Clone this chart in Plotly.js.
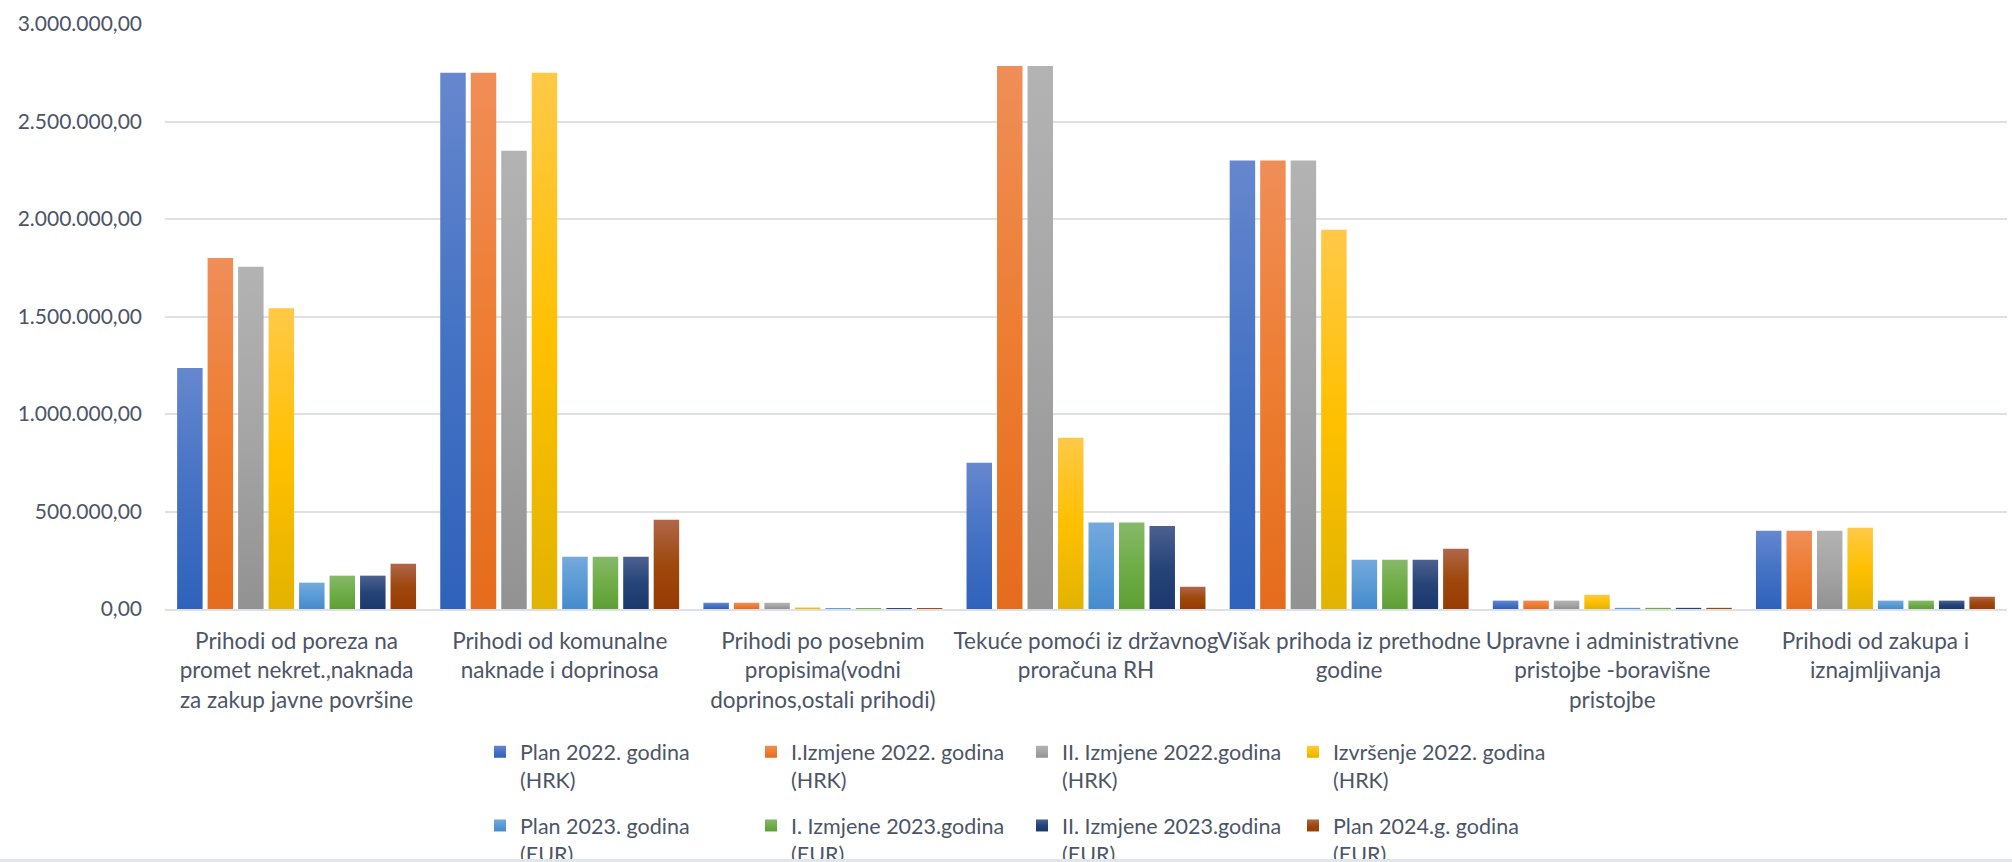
<!DOCTYPE html>
<html>
<head>
<meta charset="utf-8">
<script src="https://cdn.plot.ly/plotly-3.0.1.min.js"></script>
<style>
  html, body { margin: 0; padding: 0; background: #e2e6ea; }
  #chart { width: 2012px; height: 859px; background: #ffffff; }
</style>
</head>
<body>
<div id="chart"></div>
<script>
// ---------- data ----------
const categories = [
  "Prihodi od poreza na<br>promet nekret.,naknada<br>za zakup javne površine",
  "Prihodi od komunalne<br>naknade i doprinosa",
  "Prihodi po posebnim<br>propisima(vodni<br>doprinos,ostali prihodi)",
  "Tekuće pomoći iz državnog<br>proračuna RH",
  "Višak prihoda iz prethodne<br>godine",
  "Upravne i administrativne<br>pristojbe -boravišne<br>pristojbe",
  "Prihodi od zakupa i<br>iznajmljivanja"
];

const seriesNames = [
  "Plan 2022. godina<br>(HRK)",
  "I.Izmjene 2022. godina<br>(HRK)",
  "II. Izmjene 2022.godina<br>(HRK)",
  "Izvršenje 2022. godina<br>(HRK)",
  "Plan 2023. godina<br>(EUR)",
  "I. Izmjene 2023.godina<br>(EUR)",
  "II. Izmjene 2023.godina<br>(EUR)",
  "Plan 2024.g. godina<br>(EUR)"
];

const plan2022      = [1236000, 2750000, 32000,  750000, 2300000, 43000, 401000];
const izmjene1_2022 = [1800000, 2750000, 32000, 2785000, 2300000, 43000, 401000];
const izmjene2_2022 = [1755000, 2350000, 32000, 2785000, 2300000, 43000, 401000];
const izvrsenje2022 = [1542000, 2750000,  8000,  878000, 1945000, 73000, 417000];
const plan2023      = [ 135000,  268000,  5000,  443000,  253000,  6000,  43000];
const izmjene1_2023 = [ 171000,  268000,  5000,  443000,  253000,  6000,  43000];
const izmjene2_2023 = [ 171000,  268000,  5000,  426000,  253000,  6000,  43000];
const plan2024      = [ 232000,  458000,  5000,  114000,  309000,  6000,  63000];

const yTickValues = [0, 500000, 1000000, 1500000, 2000000, 2500000, 3000000];

// ---------- styling ----------
const seriesValues = [plan2022, izmjene1_2022, izmjene2_2022, izvrsenje2022,
                      plan2023, izmjene1_2023, izmjene2_2023, plan2024];
const baseColors = ["#4472C4", "#ED7D31", "#A5A5A5", "#FFC000",
                    "#5B9BD5", "#70AD47", "#264478", "#9E480E"];
const gradStops = [
  ["#6687CE", "#2F62BC"],
  ["#F08E58", "#E56C1C"],
  ["#B3B3B3", "#929292"],
  ["#FFC947", "#E2B300"],
  ["#74A9DE", "#458BCD"],
  ["#86B96A", "#5E9F35"],
  ["#4C6190", "#1C386E"],
  ["#B06648", "#983B02"]
];

const textColor = "#4b5567";
const fontFam = "Lato, 'Open Sans', sans-serif";

const data = seriesValues.map((vals, i) => ({
  type: "bar",
  name: seriesNames[i],
  x: categories,
  y: vals,
  marker: { color: baseColors[i], line: { width: 0 } },
  legend: i < 4 ? "legend" : "legend2",
  hoverinfo: "skip"
}));

const legendCommon = {
  orientation: "h",
  xanchor: "left",
  yanchor: "top",
  x: 0.171,
  entrywidth: 226,
  entrywidthmode: "pixels",
  valign: "top",
  traceorder: "normal",
  font: { family: fontFam, size: 21.5, color: textColor },
  bgcolor: "rgba(0,0,0,0)",
  borderwidth: 0
};

const layout = {
  width: 2012,
  height: 859,
  margin: { l: 165, r: 5, t: 24, b: 250, autoexpand: false },
  paper_bgcolor: "#ffffff",
  plot_bgcolor: "#ffffff",
  separators: ",.",
  font: { family: fontFam, size: 21, color: textColor },
  barmode: "group",
  bargap: 0.073,
  bargroupgap: 0.164,
  showlegend: true,
  xaxis: {
    type: "category",
    showgrid: false,
    showline: true,
    linecolor: "#dde1e6",
    linewidth: 2,
    ticks: "",
    tickangle: 0,
    ticklabelstandoff: 11,
    tickfont: { family: fontFam, size: 22.5, color: textColor },
    automargin: false,
    fixedrange: true
  },
  yaxis: {
    range: [0, 3000000],
    tickvals: yTickValues,
    tickformat: ",.2f",
    showgrid: true,
    gridcolor: "#dde1e6",
    gridwidth: 2,
    zeroline: false,
    showline: false,
    ticks: "",
    ticklabelstandoff: 22,
    tickfont: { family: fontFam, size: 21, color: textColor },
    automargin: false,
    fixedrange: true
  },
  legend: Object.assign({}, legendCommon, { y: -0.209 }),
  legend2: Object.assign({}, legendCommon, { y: -0.335 })
};

function applyGradients(gd) {
  const svgNS = "http://www.w3.org/2000/svg";
  const svg = gd.querySelector("svg.main-svg");
  let defs = svg.querySelector("defs");
  if (!defs) { defs = document.createElementNS(svgNS, "defs"); svg.insertBefore(defs, svg.firstChild); }
  gradStops.forEach((s, i) => {
    const lg = document.createElementNS(svgNS, "linearGradient");
    lg.setAttribute("id", "barGrad" + i);
    lg.setAttribute("x1", "0"); lg.setAttribute("y1", "0");
    lg.setAttribute("x2", "0"); lg.setAttribute("y2", "1");
    [[0, s[0]], [0.5, baseColors[i]], [1, s[1]]].forEach(st => {
      const stop = document.createElementNS(svgNS, "stop");
      stop.setAttribute("offset", st[0]);
      stop.setAttribute("stop-color", st[1]);
      lg.appendChild(stop);
    });
    defs.appendChild(lg);
  });
  gd.querySelectorAll(".barlayer .trace").forEach(g => {
    const d = g.__data__;
    if (!d || !d[0] || !d[0].trace) return;
    const idx = d[0].trace.index;
    g.querySelectorAll("path").forEach(p => { p.style.fill = "url(#barGrad" + idx + ")"; });
  });
  gd.querySelectorAll("g.traces").forEach(g => {
    const d = g.__data__;
    if (!d || !d[0] || !d[0].trace) return;
    const idx = d[0].trace.index;
    g.querySelectorAll(".legendpoints path").forEach(p => { p.style.fill = "url(#barGrad" + idx + ")"; });
  });
}

const gd = document.getElementById("chart");
Plotly.newPlot(gd, data, layout, { staticPlot: true, displayModeBar: false })
  .then(applyGradients);
</script>
</body>
</html>
